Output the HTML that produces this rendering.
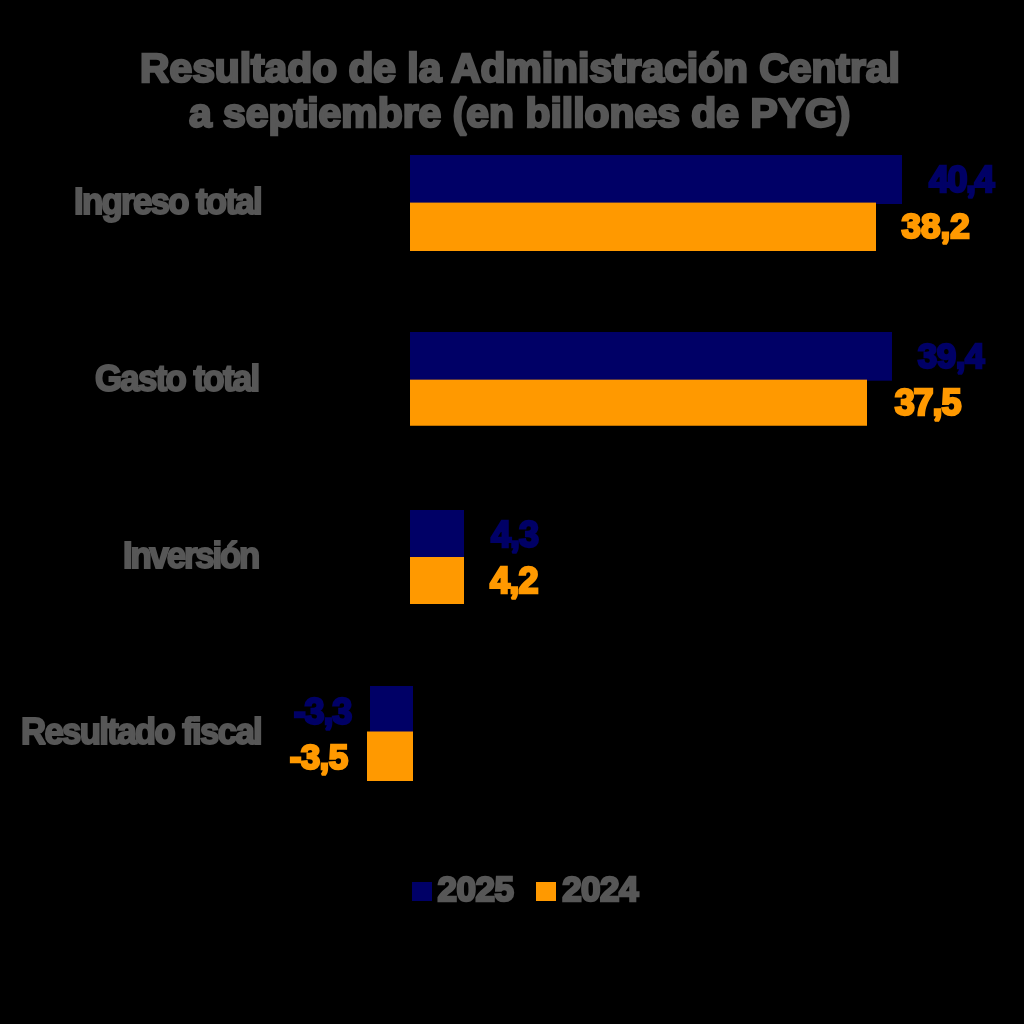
<!DOCTYPE html>
<html><head><meta charset="utf-8">
<style>
html,body{margin:0;padding:0;background:#000;width:1024px;height:1024px;overflow:hidden}
svg{display:block;will-change:transform}
text{font-family:"Liberation Sans",sans-serif;font-weight:bold;stroke-linejoin:miter;stroke-miterlimit:2}
</style></head>
<body>
<svg width="1024" height="1024" viewBox="0 0 1024 1024">
<rect width="1024" height="1024" fill="#000"/>
<rect fill="#000066" x="410" y="155" width="492" height="49"/>
<rect fill="#ff9900" x="410" y="202.6" width="466" height="48.4"/>
<rect fill="#000066" x="410" y="332" width="482" height="48.7"/>
<rect fill="#ff9900" x="410" y="379.65" width="457" height="46.1"/>
<rect fill="#000066" x="410" y="510" width="54" height="47"/>
<rect fill="#ff9900" x="410" y="557" width="54" height="47"/>
<rect fill="#000066" x="370" y="686" width="43" height="46.5"/>
<rect fill="#ff9900" x="367" y="731.5" width="46" height="49.5"/>
<rect fill="#000066" x="412" y="882" width="20" height="19"/>
<rect fill="#ff9900" x="536" y="882" width="20" height="19"/>

<text x="140.00" y="81.55" style="font-size:40.8px;stroke-width:2.5px;letter-spacing:-0.011px;word-spacing:0px;fill:#575757;stroke:#575757">Resultado de la Administración Central</text>
<text x="189.00" y="127.45" style="font-size:40.8px;stroke-width:2.5px;letter-spacing:0.050px;word-spacing:0px;fill:#575757;stroke:#575757">a septiembre (en billones de PYG)</text>
<text transform="translate(74.00,214.00) scale(0.94,1)" style="font-size:37px;stroke-width:2px;letter-spacing:-1.800px;word-spacing:0.3px;fill:#575757;stroke:#575757">Ingreso total</text>
<text transform="translate(95.00,391.40) scale(0.94,1)" style="font-size:37px;stroke-width:2px;letter-spacing:-1.776px;word-spacing:0.3px;fill:#575757;stroke:#575757">Gasto total</text>
<text transform="translate(123.00,567.70) scale(0.94,1)" style="font-size:37px;stroke-width:2px;letter-spacing:-2.300px;word-spacing:0px;fill:#575757;stroke:#575757">Inversión</text>
<text transform="translate(21.00,744.00) scale(0.94,1)" style="font-size:37px;stroke-width:2px;letter-spacing:-1.787px;word-spacing:0.3px;fill:#575757;stroke:#575757">Resultado fiscal</text>
<text x="929.00" y="191.65" style="font-size:36px;stroke-width:2.5px;letter-spacing:-1.520px;word-spacing:0px;fill:#000066;stroke:#000066">40,4</text>
<text x="901.40" y="237.75" style="font-size:35px;stroke-width:2.5px;letter-spacing:0.080px;word-spacing:0px;fill:#ff9900;stroke:#ff9900">38,2</text>
<text x="917.70" y="368.45" style="font-size:35px;stroke-width:2.5px;letter-spacing:-0.453px;word-spacing:0px;fill:#000066;stroke:#000066">39,4</text>
<text x="894.70" y="415.25" style="font-size:36px;stroke-width:2.5px;letter-spacing:-1.093px;word-spacing:0px;fill:#ff9900;stroke:#ff9900">37,5</text>
<text x="491.00" y="546.55" style="font-size:36px;stroke-width:2.5px;letter-spacing:-1.040px;word-spacing:0px;fill:#000066;stroke:#000066">4,3</text>
<text x="490.00" y="592.95" style="font-size:36px;stroke-width:2.5px;letter-spacing:-0.800px;word-spacing:0px;fill:#ff9900;stroke:#ff9900">4,2</text>
<text x="293.70" y="723.65" style="font-size:36px;stroke-width:2.5px;letter-spacing:-1.147px;word-spacing:0px;fill:#000066;stroke:#000066">-3,3</text>
<text x="289.70" y="769.25" style="font-size:35px;stroke-width:2.5px;letter-spacing:-0.613px;word-spacing:0px;fill:#ff9900;stroke:#ff9900">-3,5</text>
<text x="437.60" y="901.45" style="font-size:35px;stroke-width:2.5px;letter-spacing:-0.507px;word-spacing:0px;fill:#575757;stroke:#575757">2025</text>
<text x="562.20" y="901.45" style="font-size:35px;stroke-width:2.5px;letter-spacing:-0.560px;word-spacing:0px;fill:#575757;stroke:#575757">2024</text>
</svg>
</body></html>
